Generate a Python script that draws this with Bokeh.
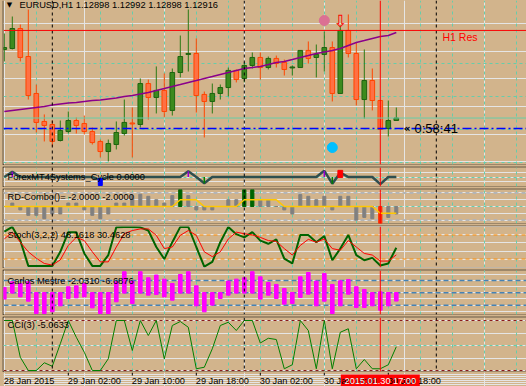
from bokeh.plotting import figure
from bokeh.layouts import column
from bokeh.models import Range1d, Span, Label, Grid, FixedTicker
from bokeh.core.properties import value
from bokeh.embed import file_html
from bokeh.resources import INLINE

BG = "#D2B48C"
GRID_C = "#66CDAA"
FONT = "Liberation Sans"

# ---------------- data (EURUSD H1, 28 Jan 18:00 .. 30 Jan 19:00) ----------------
opens = [1.13413, 1.13420, 1.13565, 1.13362, 1.13094, 1.12891, 1.12869, 1.12753, 1.12818, 1.12898,
         1.12876, 1.12818, 1.12746, 1.12673, 1.12724, 1.12804, 1.12880, 1.12869, 1.13166, 1.13065,
         1.13116, 1.12971, 1.13246, 1.13377, 1.13384, 1.13087, 1.13036, 1.13094, 1.13137, 1.13261,
         1.13203, 1.13297, 1.13355, 1.13282, 1.13348, 1.13319, 1.13279, 1.13282, 1.13406, 1.13355,
         1.13377, 1.13427, 1.13094, 1.13551, 1.13384, 1.13050, 1.13188, 1.13043, 1.12840, 1.12898]
highs = [1.13529, 1.13652, 1.13594, 1.13703, 1.13159, 1.12942, 1.12898, 1.12898, 1.12963, 1.12920,
         1.12934, 1.12847, 1.12760, 1.12760, 1.12891, 1.13050, 1.12992, 1.13203, 1.13195, 1.13290,
         1.13239, 1.13275, 1.13514, 1.13703, 1.13493, 1.13108, 1.13166, 1.13159, 1.13282, 1.13268,
         1.13319, 1.13391, 1.13391, 1.13362, 1.13369, 1.13340, 1.13297, 1.13406, 1.13471, 1.13449,
         1.13543, 1.13471, 1.13587, 1.13667, 1.13464, 1.13413, 1.13275, 1.13043, 1.13043, 1.12992]
lows = [1.13326, 1.13413, 1.13326, 1.13050, 1.12811, 1.12746, 1.12710, 1.12746, 1.12804, 1.12804,
        1.12797, 1.12724, 1.12630, 1.12601, 1.12688, 1.12789, 1.12630, 1.12847, 1.12905, 1.12949,
        1.12920, 1.12934, 1.13210, 1.13253, 1.12956, 1.12775, 1.12949, 1.13050, 1.13072, 1.13174,
        1.13174, 1.13275, 1.13195, 1.13268, 1.13282, 1.13224, 1.13224, 1.13282, 1.13311, 1.13210,
        1.13253, 1.13036, 1.13094, 1.13355, 1.13007, 1.12912, 1.12971, 1.12833, 1.12782, 1.12898]
closes = [1.13427, 1.13565, 1.13355, 1.13079, 1.12884, 1.12862, 1.12746, 1.12826, 1.12898, 1.12862,
          1.12818, 1.12738, 1.12673, 1.12731, 1.12811, 1.12884, 1.12873, 1.13166, 1.13065, 1.13116,
          1.12963, 1.13246, 1.13362, 1.13384, 1.13079, 1.13036, 1.13094, 1.13137, 1.13261, 1.13195,
          1.13297, 1.13355, 1.13282, 1.13348, 1.13311, 1.13268, 1.13286, 1.13406, 1.13348, 1.13377,
          1.13427, 1.13094, 1.13551, 1.13384, 1.13050, 1.13188, 1.13043, 1.12833, 1.12898, 1.12916]
ma = [1.12963, 1.12971, 1.12978, 1.12985, 1.12992, 1.13000, 1.13010, 1.13018, 1.13025, 1.13029,
      1.13036, 1.13043, 1.13047, 1.13054, 1.13061, 1.13072, 1.13079, 1.13090, 1.13101, 1.13116,
      1.13130, 1.13145, 1.13159, 1.13174, 1.13188, 1.13203, 1.13217, 1.13232, 1.13246, 1.13261,
      1.13275, 1.13282, 1.13290, 1.13304, 1.13319, 1.13326, 1.13340, 1.13355, 1.13369, 1.13384,
      1.13395, 1.13406, 1.13420, 1.13442, 1.13464, 1.13478, 1.13493, 1.13507, 1.13514, 1.13536]

sell_dot_bars = [40]
sell_dot_prices = [1.13623]
buy_dot_bars = [41]
buy_dot_prices = [1.12702]
arrow_bars = [42]
arrow_prices = [1.13623]

res_level = 1.13551
res_label = "H1 Res"
line_level = 1.12840
timer_text = "0:58:41"
price_grid = [1.12590, 1.12830, 1.13070, 1.13310, 1.13550]

cycle = [0, 0.55, 0, 0, 0, 0, 0, 0, 0, 0,
         0, 0, -0.3, 0, 0, 0, 0, 0, 0, 0,
         0, 0, 0, 0.6, 0, -0.65, 0, 0, 0, 0,
         0, 0, 0, 0, 0, 0, 0, 0, 0, 0,
         0.65, -0.7, 0.45, 0, 0, 0, 0, -0.75, 0, 0]
cyc_up_bars = [1, 23, 40]
cyc_dn_bars = [25, 41]
cyc_blue_bars = [12]
cyc_red_bars = [42]

rd_hist = [0, 0.5, -0.5, -1.3, -1.3, -1.8, -1.1, -1.1, 0.5, 0.5,
           -0.5, -1.3, -1.8, -1.1, 0.5, 0.5, 1.6, 1.8, 1.5, 1.0,
           0.5, 1.6, 0, 1.6, -0.5, -0.5, -0.5, 0, 1.0, 1.0,
           0, 0, 1.0, 1.0, 0, -0.5, -1.1, 1.75, 1.5, 1.0,
           1.5, -0.5, 1.5, 1.5, -2.0, -1.6, -1.8, 0, -1.6, -1.1]
rd_line = [0, 0, 0, 0, 0, 0, 0, 0, 0, 0,
           0, 0, 0, 0, 0, 0, 0, 0, 0, 0,
           0, 0, 1, 1, 1, 0, 0, 0, 0, 0,
           1, 1, 1, 1, 1, 0, 0, 0, 0, 0,
           0, 0, 0, 0, 0, 0, 0, -1, -1, -1]
rd_up_bars = [22, 30, 31]
rd_dn_bars = [47]

stoch_k = [88, 100, 66, 3, 3, 3, 3, 38, 87, 87,
           34, 3, 3, 30, 99, 100, 100, 99, 91, 50,
           20, 62, 100, 100, 50, 1, 13, 62, 100, 82,
           74, 87, 66, 58, 69, 21, 9, 80, 80, 62,
           77, 17, 46, 80, 30, 17, 23, 4, 9, 48.16]
stoch_d = [70, 87, 62, 38, 22, 9, 5, 18, 54, 74,
           66, 38, 13, 13, 50, 83, 91, 95, 95, 79,
           46, 50, 79, 91, 79, 38, 26, 38, 70, 87,
           83, 80, 74, 66, 64, 46, 30, 54, 69, 62,
           70, 46, 42, 66, 50, 34, 30, 15, 15, 30.46]

cm_hi = [4.3, 8.9, 7.6, 8.9, 0, 0, 0, 0, 4.9, 5.7,
         7.6, 0, 0, 0, 8.9, 17.1, 9.5, 17.1, 12.2, 14.4,
         11.1, 7.6, 14.9, 17.1, 5.7, 0, 0, 0, 9.5, 11.1,
         12.2, 17.1, 13.0, 8.4, 6.8, 3.5, 0.3, 13.0, 16.5, 9.5,
         15.7, 6.8, 9.8, 10.8, 4.9, 2.7, 0, 0.8, 0, 0]
cm_lo = [-5.1, 0, -3.3, -6.8, -16.8, -16.8, -15.4, -10.6, -4.6, -4.1,
         -3.3, -12.2, -16.8, -16.8, -7.3, 0, -8.7, 0, -1.9, -1.4,
         -3.3, -6.0, 0, 0, -10.6, -15.4, -10.0, -4.6, -1.9, 0,
         0, 0, -5.1, -1.9, -4.6, -9.2, -8.7, -3.8, -1.1, -10.6,
         -6.8, -16.8, -10.6, -1.1, -11.9, -11.9, -10.6, -14.1, -10.6, -6.7]

cci = [100, 100, -47, -100, -100, -69, -83, 7, 100, 33,
       -27, -100, -100, -53, 100, 100, -20, 100, 40, 100,
       -53, 80, 96, 73, -93, -87, -13, 80, 93, 60,
       100, 100, 10, 29, 24, -93, -77, 100, 60, -93,
       100, -93, 53, 67, -93, -56, -93, -93, -77, -5.06]

tick_bars = [0, 8, 16, 24, 32, 40, 48]
tick_labels = ["28 Jan 2015", "29 Jan 02:00", "29 Jan 10:00", "29 Jan 18:00",
               "30 Jan 02:00", "30 Jan 10:00", "30 Jan 18:00"]
sel_bar = 47
sel_label = "2015.01.30 17:00"
vgrid_bars = list(range(4, 65, 4))
day_sep_bars = [6, 30, 54]

bars = list(range(len(closes)))

# ---------------- layout helpers ----------------
W = 524
FRAME_LEFT = 3
xr = Range1d(-0.1, -0.1 + (W - 1) / 8)


def panel(h, yr, top=1, bottom=1, mb=1):
    p = figure(width=W, height=h, x_range=xr, y_range=Range1d(*yr), output_backend="svg",
               toolbar_location=None, x_axis_location=None, y_axis_location=None, title=None,
               min_border_left=1, min_border_right=0, min_border_top=top, min_border_bottom=bottom,
               border_fill_color="black", background_fill_color=BG, outline_line_color=None,
               margin=(0, 0, mb, 2))
    p.add_layout(Grid(dimension=0, ticker=FixedTicker(ticks=vgrid_bars),
                      grid_line_color=GRID_C, grid_line_dash="3 3"))
    for b in day_sep_bars:
        p.add_layout(Span(location=b, dimension="height", line_color="black",
                          line_dash="3 3", line_width=1))
    p.add_layout(Span(location=sel_bar, dimension="height", line_color="#FF0000", line_width=1))
    return p


def hgrid(p, ticks):
    p.add_layout(Grid(dimension=1, ticker=FixedTicker(ticks=ticks),
                      grid_line_color=GRID_C, grid_line_dash="3 3"))


def level(p, y, color, dash, width=1):
    p.add_layout(Span(location=y, dimension="width", line_color=color, line_dash=dash,
                      line_width=width, level="underlay"))


def lab(p, text, px, py, ftop, fh, size="9.3px", color="black", align="left", font=FONT,
        style="normal"):
    p.add_layout(Label(x=px - FRAME_LEFT, y=fh - (py - ftop), x_units="screen", y_units="screen",
                       text=text, text_font=font, text_font_size=size, text_color=color,
                       text_align=align, text_baseline="middle", text_font_style=style))


# ---------------- main price panel ----------------
pm = panel(165, (1.12579, 1.13768), top=0)
hgrid(pm, price_grid)
up = [i for i in bars if closes[i] >= opens[i]]
dn = [i for i in bars if closes[i] < opens[i]]
pm.segment(x0=up, x1=up, y0=[lows[i] for i in up], y1=[highs[i] for i in up],
           line_color="#2A7A14", line_width=1)
pm.segment(x0=dn, x1=dn, y0=[lows[i] for i in dn], y1=[highs[i] for i in dn],
           line_color="#FF4500", line_width=1)
pm.vbar(x=up, bottom=[opens[i] for i in up], top=[closes[i] for i in up], width=0.58,
        fill_color="#3C8A1E", line_color="#1E6410")
pm.vbar(x=dn, bottom=[closes[i] for i in dn], top=[opens[i] for i in dn], width=0.58,
        fill_color="#FF7043", line_color="#FF4500")
pm.line(bars, ma, line_color="#8B008B", line_width=1.5)
pm.add_layout(Span(location=res_level, dimension="width", line_color="#FF0000", line_width=1))
pm.add_layout(Span(location=closes[-1], dimension="width", line_color=GRID_C, line_width=1))
pm.add_layout(Span(location=line_level, dimension="width", line_color="#0000FF",
                   line_width=1.5, line_dash="9 3 2 3"))
pm.scatter(sell_dot_bars, sell_dot_prices, size=10, color="#DB7093")
pm.scatter(buy_dot_bars, buy_dot_prices, size=10, color="#00BFFF")
pm.text(arrow_bars, arrow_prices, text=["\u21e9"] * len(arrow_bars), text_color="#FF0000",
        text_font=value("DejaVu Sans"), text_font_size="17px", text_align="center",
        text_baseline="middle")
lab(pm, "\u25bc", 9, 4.5, 0, 164, size="7px", align="center", font="DejaVu Sans")
lab(pm, "EURUSD,H1 %.5f %.5f %.5f %.5f" % (opens[-1], highs[-1], lows[-1], closes[-1]),
    19, 4.5, 0, 164)
lab(pm, res_label, 442, 36, 0, 164, size="10.5px", color="#FF0000")
lab(pm, "\u00ab", 403, 128, 0, 164, size="11px", font="DejaVu Sans", style="bold")
lab(pm, timer_text, 414, 128, 0, 164, size="13px")

# ---------------- cycle panel ----------------
pc = panel(21, (-1, 1))
hgrid(pc, [0])
pc.line(bars, cycle, line_color="#2F4F4F", line_width=2.5)
pc.segment(x0=cyc_up_bars, x1=cyc_up_bars, y0=[0] * len(cyc_up_bars),
           y1=[cycle[i] for i in cyc_up_bars], line_color="#9400D3", line_width=1.5)
pc.segment(x0=cyc_dn_bars, x1=cyc_dn_bars, y0=[0] * len(cyc_dn_bars),
           y1=[cycle[i] for i in cyc_dn_bars], line_color="#008000", line_width=1.5)
pc.vbar(x=cyc_blue_bars, top=-0.15, bottom=-0.9, width=0.5, color="#0000FF")
pc.vbar(x=cyc_red_bars, top=0.7, bottom=-0.05, width=0.6, color="#FF0000")
lab(pc, "ForexMT4Systems_Cycle 0.0000", 7, 176, 167, 19)

# ---------------- RD-Combo panel ----------------
prd = panel(36, (-2.5, 2.5))
hgrid(prd, [0])
level(prd, 2, "#B4B4B4", "4 3", 2)
level(prd, -2, "#B4B4B4", "4 3", 2)
prd.vbar(x=bars, top=rd_hist, bottom=0, width=0.375, color="#808080")
prd.vbar(x=rd_up_bars, top=2.5, bottom=0, width=0.4, color="#006400")
prd.vbar(x=rd_dn_bars, top=0, bottom=-2.5, width=0.4, color="#FF2A00")
prd.line(bars, rd_line, line_color="#FFC800", line_width=1.5)
lab(prd, "RD-Combo()=  -2.0000 -2.0000", 7, 196.5, 189, 34)

# ---------------- Stochastic panel ----------------
pst = panel(43, (-1, 101))
level(pst, 80, "#FF8C00", "4 3")
level(pst, 20, "#FF8C00", "4 3")
pst.line(bars, stoch_k, line_color="#006400", line_width=2)
pst.line(bars, stoch_d, line_color="#FF0000", line_width=1)
lab(pst, "Stoch(3,2,2) 48.1618 30.4628", 7, 234.5, 226, 41)

# ---------------- Carlos Mestre panel ----------------
pcm = panel(46, (-17.6, 18.1))
for lv in (-10, 0, 10):
    level(pcm, lv, "#4682B4", "5 3", 1.5)
pcm.vbar(x=bars, top=cm_hi, bottom=0, width=0.45, color="#FF00FF")
pcm.vbar(x=bars, top=0, bottom=cm_lo, width=0.45, color="#FF00FF")
lab(pcm, "Carlos Mestre -2.0310 -6.6876", 7, 280.5, 270, 44)

# ---------------- CCI panel ----------------
pcci = panel(56, (-104, 112), mb=0)
hgrid(pcci, [0])
level(pcci, 100, "#8B1A1A", "3 3")
level(pcci, -100, "#8B1A1A", "3 3")
pcci.line(bars, cci, line_color="#008000", line_width=1)
lab(pcci, "CCI(3) -5.0633", 7, 324.5, 317, 54)

# ---------------- time axis ----------------
pax = figure(width=W, height=14, x_range=xr, y_range=Range1d(0, 14), output_backend="svg",
             toolbar_location=None, x_axis_location=None, y_axis_location=None, title=None,
             min_border_left=1, min_border_right=0, min_border_top=0, min_border_bottom=0,
             border_fill_color=BG, background_fill_color=BG, outline_line_color=None,
             margin=(0, 0, 0, 2))
pax.segment(x0=tick_bars[1:], x1=tick_bars[1:], y0=14, y1=11, line_color="black", line_width=1)
for b, t in zip(tick_bars, tick_labels):
    pax.add_layout(Label(x=b, y=6, x_units="data", y_units="screen", text=t, text_font=FONT,
                         text_font_size="9.2px", text_color="black", text_align="left",
                         text_baseline="middle", x_offset=-0.5))
pax.rect(x=[sel_bar], y=[6], width=79, height=12, width_units="screen", height_units="screen",
         fill_color="#FF0000", line_color=None)
pax.add_layout(Label(x=sel_bar, y=6, x_units="data", y_units="screen", text=sel_label,
                     text_font=FONT, text_font_size="9.2px", text_color="white",
                     text_align="center", text_baseline="middle"))

layout = column(pm, pc, prd, pst, pcm, pcci, pax, spacing=0,
                styles={"background-color": BG})

open("out.html", "w").write(file_html(layout, INLINE))
